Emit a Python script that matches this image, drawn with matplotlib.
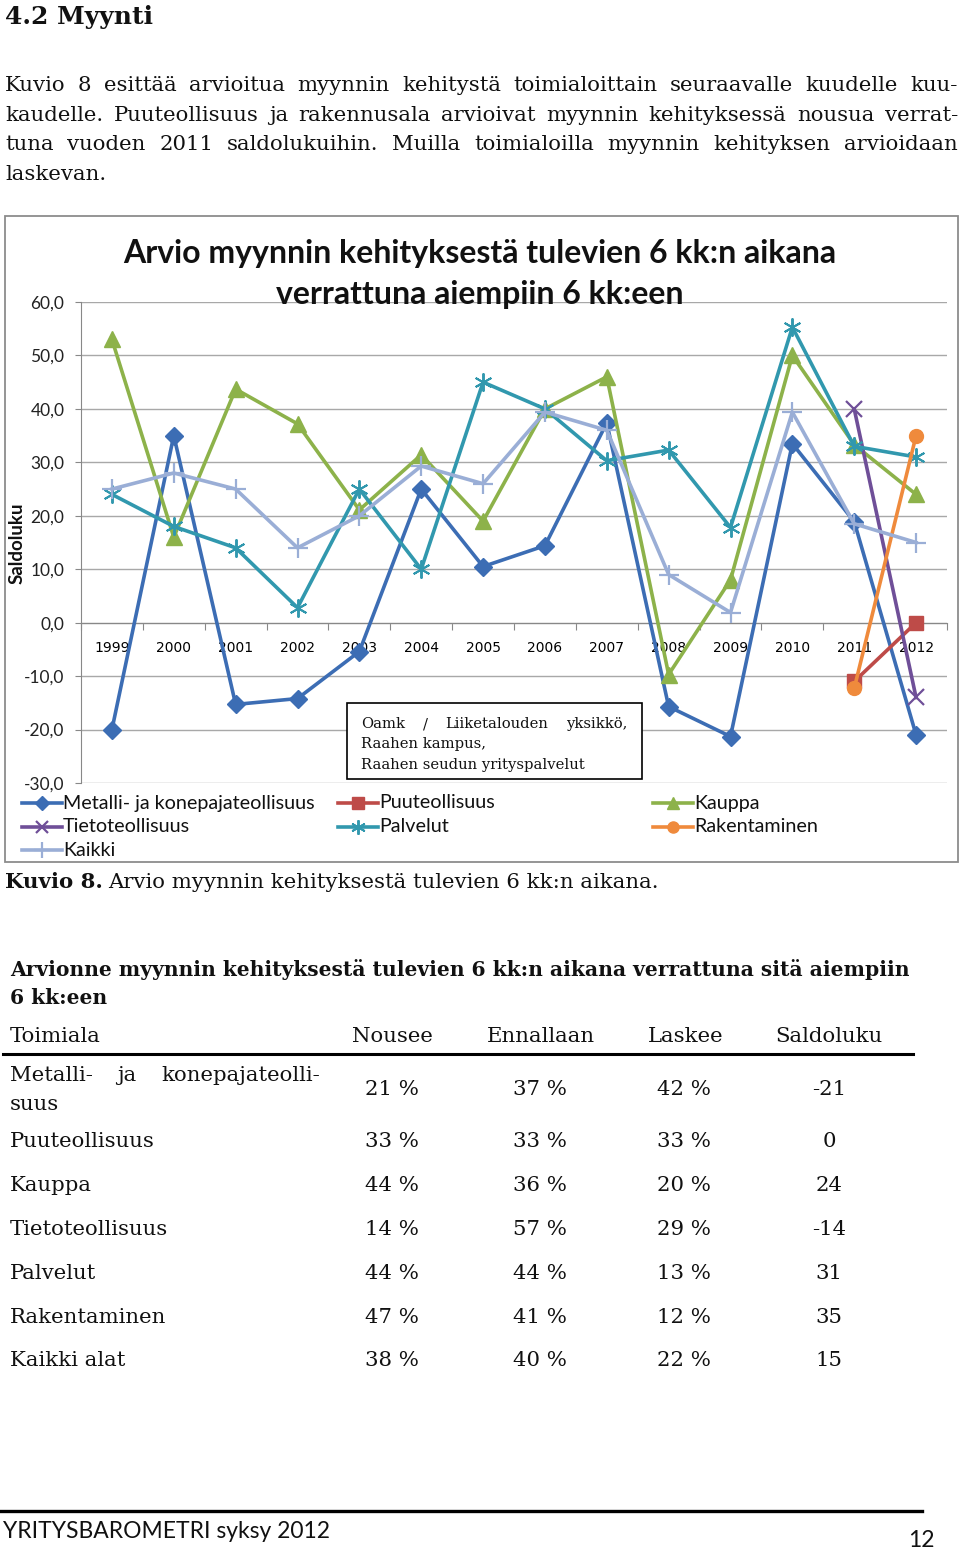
import numpy as np
import matplotlib
matplotlib.use("Agg")
import matplotlib.pyplot as plt
from matplotlib.lines import Line2D
from matplotlib.patches import Rectangle

nan = np.nan

# chart data (saldoluku per year)
years = ["1999", "2000", "2001", "2002", "2003", "2004", "2005",
         "2006", "2007", "2008", "2009", "2010", "2011", "2012"]
metalli = [-20, 35, -15.3, -14.2, -5.4, 25, 10.5, 14.4, 37.4, -15.7, -21.3, 33.5, 18.9, -21]
puu = [nan] * 12 + [-11, 0]
kauppa = [53, 16, 43.7, 37.2, 21.1, 31.4, 19, 40, 46, -9.7, 8, 50, 33.3, 24]
tieto = [nan] * 12 + [40, -14]
palvelut = [24, 18, 14, 2.8, 25, 10, 45, 40, 30.3, 32.3, 17.8, 55.3, 33, 31]
rakentaminen = [nan] * 12 + [-12.3, 35]
kaikki = [25, 28, 25, 14, 20, 29.3, 26, 39.4, 36, 9, 1.9, 39.4, 18.5, 15]

# table data
toimialat = ["Puuteollisuus", "Kauppa", "Tietoteollisuus", "Palvelut",
             "Rakentaminen", "Kaikki alat"]
nousee = ["21 %", "33 %", "44 %", "14 %", "44 %", "47 %", "38 %"]
ennallaan = ["37 %", "33 %", "36 %", "57 %", "44 %", "41 %", "40 %"]
laskee = ["42 %", "33 %", "20 %", "29 %", "13 %", "12 %", "22 %"]
saldoluku = ["-21", "0", "24", "-14", "31", "35", "15"]

SERIF = "DejaVu Serif"
SANS = "Lato"

series = [
    ("Metalli- ja konepajateollisuus", metalli, "#3c6db4", "D", 9, 1.0),
    ("Puuteollisuus", puu, "#be4b48", "s", 10, 1.0),
    ("Kauppa", kauppa, "#8db24a", "^", 11, 1.0),
    ("Tietoteollisuus", tieto, "#6f4f98", "x", 11, 1.6),
    ("Palvelut", palvelut, "#3198ae", (6, 2, 0), 13, 1.4),
    ("Rakentaminen", rakentaminen, "#ef8a3c", "o", 10, 1.0),
    ("Kaikki", kaikki, "#9aaed6", "+", 14, 1.6),
]

fig = plt.figure(figsize=(9.6, 15.5), dpi=100)
W, H = 960, 1550

# chart axes, placed by pixel box (x 81..947, y 302..783)
ax = fig.add_axes([81 / W, 1 - 783 / H, (947 - 81) / W, (783 - 302) / H])
x = np.arange(len(years))
for name, vals, col, mk, ms, mew in series:
    ax.plot(x, vals, color=col, lw=2.6, marker=mk, ms=ms, mew=mew,
            mfc=col, mec=col, zorder=3)

ax.set_xlim(-0.5, 13.5)
ax.set_ylim(-30, 60)
yt = list(range(-30, 61, 10))
ax.set_yticks(yt)
ax.set_yticklabels([f"{v:.1f}".replace(".", ",") for v in yt],
                   fontfamily=SANS, fontsize=12.5, color="#222222")
ax.grid(axis="y", color="#a8a8a8", lw=1)
ax.set_axisbelow(True)
ax.set_xticks(np.arange(-0.5, 14, 1))
ax.set_xticklabels([])
ax.set_xticks(x, minor=True)
ax.set_xticklabels(years, minor=True, fontfamily=SANS, fontsize=13.5, color="#222222")
ax.tick_params(axis="x", which="major", length=5, color="#888888", direction="out")
ax.tick_params(axis="x", which="minor", length=0, pad=13)
ax.tick_params(axis="y", length=4, color="#888888", pad=8)
ax.spines["bottom"].set_position(("data", 0))
ax.spines["bottom"].set_color("#888888")
ax.spines["left"].set_color("#888888")
ax.spines["top"].set_visible(False)
ax.spines["right"].set_visible(False)
ax.patch.set_alpha(0)

# page overlay in pixel coordinates
ov = fig.add_axes([0, 0, 1, 1])
ov.set_xlim(0, W)
ov.set_ylim(H, 0)
ov.axis("off")
ov.patch.set_alpha(0)
renderer = fig.canvas.get_renderer()


def width_of(t):
    return t.get_window_extent(renderer).width


def justify(line, x0, x1, y, **kw):
    words = line.split()
    texts = [ov.text(0, y, w, va="baseline", ha="left", **kw) for w in words]
    widths = [width_of(t) for t in texts]
    gap = (x1 - x0 - sum(widths)) / max(len(words) - 1, 1)
    xx = x0
    for t, w in zip(texts, widths):
        t.set_x(xx)
        xx += w + gap
    return texts


body = dict(fontfamily=SERIF, fontsize=15.3, color="#111111")
ov.text(5, 24, "4.2 Myynti", fontfamily=SERIF, fontsize=18, fontweight="bold",
        va="baseline", color="#111111")
para = [
    "Kuvio 8 esittää arvioitua myynnin kehitystä toimialoittain seuraavalle kuudelle kuu-",
    "kaudelle. Puuteollisuus ja rakennusala arvioivat myynnin kehityksessä nousua verrat-",
    "tuna vuoden 2011 saldolukuihin. Muilla toimialoilla myynnin kehityksen arvioidaan",
]
for i, line in enumerate(para):
    justify(line, 5, 958, 91 + i * 29.7, **body)
ov.text(5, 91 + 3 * 29.7, "laskevan.", va="baseline", **body)

# chart frame and title
ov.add_patch(Rectangle((5, 216), 953, 646, fill=False, ec="#8c8c8c", lw=1.3))
ov.text(480, 263, "Arvio myynnin kehityksestä tulevien 6 kk:n aikana", ha="center",
        va="baseline", fontfamily=SANS, fontsize=23, fontweight="bold", color="#111111")
ov.text(480, 304, "verrattuna aiempiin 6 kk:een", ha="center",
        va="baseline", fontfamily=SANS, fontsize=23, fontweight="bold", color="#111111")
ov.text(17, 543, "Saldoluku", rotation=90, ha="center", va="center",
        fontfamily=SANS, fontsize=13.5, fontweight="bold", color="#111111")

# source box inside the chart
box = Rectangle((347, 703), 295, 76, fc="white", ec="black", lw=1.2, zorder=5)
ov.add_patch(box)
boxkw = dict(fontfamily=SERIF, fontsize=10.6, color="#111111", zorder=6)
justify("Oamk / Liiketalouden yksikkö,", 361, 627, 728, **boxkw)
ov.text(361, 748, "Raahen kampus,", va="baseline", **boxkw)
t3 = ov.text(361, 769, "Raahen seudun yrityspalvelut", va="baseline", **boxkw)
t3.set_clip_path(box)

# legend, drawn by hand in three columns
legend_pos = [(22, 803), (22, 827), (22, 850), (338, 803), (338, 827), (653, 803), (653, 827)]
order = [0, 3, 6, 1, 4, 2, 5]
for (lx, ly), idx in zip(legend_pos, order):
    name, vals, col, mk, ms, mew = series[idx]
    ov.add_line(Line2D([lx, lx + 40], [ly, ly], color=col, lw=2.6))
    ov.add_line(Line2D([lx + 20], [ly], marker=mk, ms=ms * 0.8, mew=mew, color=col,
                       mfc=col, mec=col))
    ov.text(lx + 41, ly, name, va="center", fontfamily=SANS, fontsize=14.2, color="#111111")

# caption
cap = ov.text(5, 888, "Kuvio 8.", va="baseline", fontweight="bold", **body)
ov.text(5 + width_of(cap) + 5, 888, "Arvio myynnin kehityksestä tulevien 6 kk:n aikana.",
        va="baseline", **body)

# table
bold = dict(fontfamily=SERIF, fontsize=14.6, fontweight="bold", color="#111111")
ov.text(10, 976, "Arvionne myynnin kehityksestä tulevien 6 kk:n aikana verrattuna sitä aiempiin",
        va="baseline", **bold)
ov.text(10, 1004, "6 kk:een", va="baseline", **bold)
for hx, label in [(10, "Toimiala"), (352, "Nousee"), (487, "Ennallaan"),
                  (648, "Laskee"), (775, "Saldoluku")]:
    ov.text(hx, 1042, label, va="baseline", **body)
ov.add_line(Line2D([3, 913], [1054, 1054], color="black", lw=2.2))

justify("Metalli- ja konepajateolli-", 10, 320, 1081, **body)
ov.text(10, 1110, "suus", va="baseline", **body)
row_y = [1095, 1147, 1191, 1235, 1279, 1323, 1366]
for i, ry in enumerate(row_y):
    if i > 0:
        ov.text(10, ry, toimialat[i - 1], va="baseline", **body)
    ov.text(392, ry, nousee[i], ha="center", va="baseline", **body)
    ov.text(540, ry, ennallaan[i], ha="center", va="baseline", **body)
    ov.text(684, ry, laskee[i], ha="center", va="baseline", **body)
    ov.text(829, ry, saldoluku[i], ha="center", va="baseline", **body)

# footer
ov.add_line(Line2D([0, 922], [1511, 1511], color="black", lw=2.4))
ov.text(3, 1538, "YRITYSBAROMETRI syksy 2012", va="baseline",
        fontfamily=SANS, fontsize=16.5, color="#111111")
ov.text(935, 1547, "12", ha="right", va="baseline",
        fontfamily=SANS, fontsize=16.5, color="#111111")

fig.savefig("out.png", dpi=100, facecolor="white")
